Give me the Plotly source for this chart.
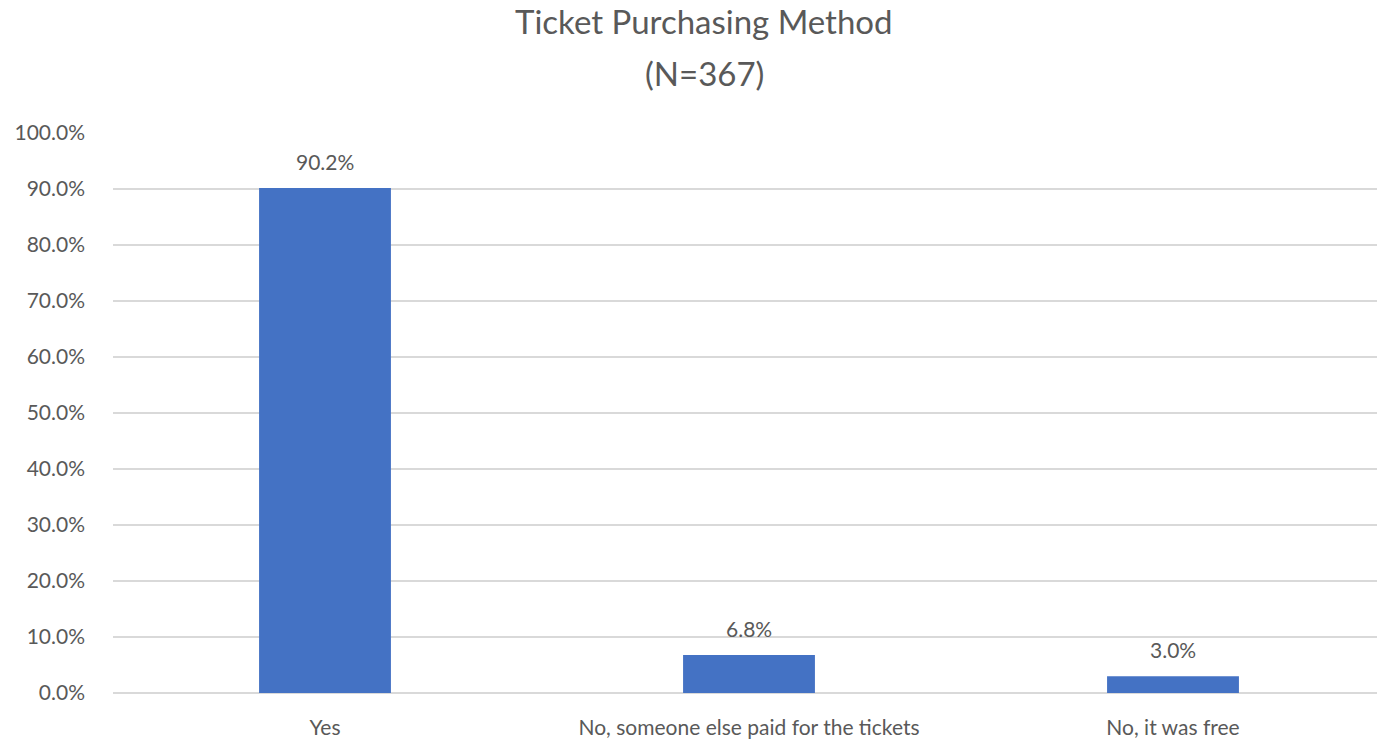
import plotly.graph_objects as go

categories = ["Yes", "No, someone else paid for the tickets", "No, it was free"]
shares = [90.2, 6.8, 3.0]
tick_vals = [0, 10, 20, 30, 40, 50, 60, 70, 80, 90, 100]
tick_text = [f"{v:.1f}%" for v in tick_vals]

font_family = "Lato, 'Open Sans', sans-serif"
grey = "#595959"

fig = go.Figure(go.Bar(
    x=categories,
    y=shares,
    marker=dict(color="#4472C4", line=dict(width=0)),
    hoverinfo="skip",
))

# value labels above each bar
for cat, val in zip(categories, shares):
    fig.add_annotation(
        x=cat, y=val, text=f"{val:.1f}%",
        showarrow=False, yanchor="bottom", yshift=12,
        font=dict(family=font_family, size=21, color=grey),
    )

# two-line title, spaced like the original
fig.add_annotation(
    xref="paper", yref="paper", x=0.465, y=1.0, yshift=112,
    text="Ticket Purchasing Method", showarrow=False, yanchor="middle",
    font=dict(family=font_family, size=33, color=grey),
)
fig.add_annotation(
    xref="paper", yref="paper", x=0.465, y=1.0, yshift=60,
    text="(N=367)", showarrow=False, yanchor="middle",
    font=dict(family=font_family, size=33, color=grey),
)

# page body has an 8px margin, so the figure is trimmed to fit the window
fig.update_layout(
    width=1377, height=735,
    margin=dict(l=105, r=0, t=125, b=50),
    paper_bgcolor="white", plot_bgcolor="white",
    bargap=0.689,
    showlegend=False,
    font=dict(family=font_family, size=21, color=grey),
)
fig.update_xaxes(
    showgrid=False, showline=False, ticks="",
    ticklabelstandoff=20,
    tickfont=dict(size=21, color=grey),
)
fig.update_yaxes(
    range=[0, 100], tickvals=tick_vals, ticktext=tick_text,
    showgrid=True, gridcolor="#d9d9d9", gridwidth=1.5,
    zeroline=True, zerolinecolor="#d9d9d9", zerolinewidth=1.5,
    showline=False, ticks="", ticklabelstandoff=27,
    tickfont=dict(size=21, color=grey),
)

fig.write_html("out.html")
